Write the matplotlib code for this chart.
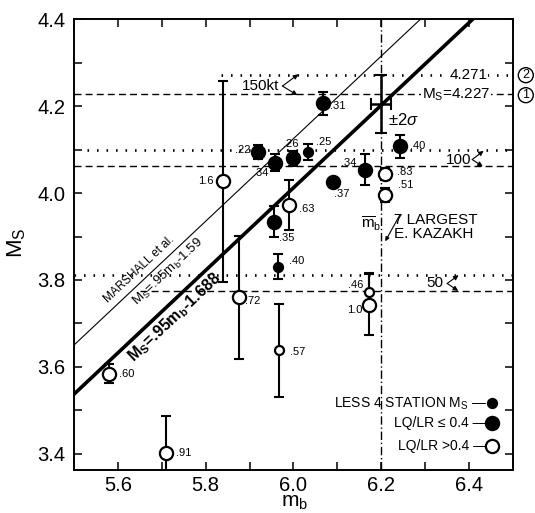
import numpy as np
import matplotlib.pyplot as plt
from matplotlib.ticker import MultipleLocator

plt.rcParams['font.family'] = ['Liberation Sans', 'DejaVu Sans']
plt.rcParams['mathtext.fontset'] = 'custom'
plt.rcParams['mathtext.rm'] = 'Liberation Sans'
plt.rcParams['mathtext.it'] = 'Liberation Sans:italic'
plt.rcParams['mathtext.bf'] = 'Liberation Sans:bold'

## Data.
# LQ/LR <= 0.4 (large filled)
fill_mb  = [5.955, 5.920, 5.957, 5.999, 6.067, 6.091, 6.162, 6.243]
fill_ms  = [3.934, 4.094, 4.070, 4.080, 4.206, 4.025, 4.054, 4.107]
fill_err = [0.036, 0.016, 0.019, 0.017, 0.026, 0.0, 0.035, 0.027]
fill_lab = ['.35', '.22', '.34', '.26', '.31', '.37', '.34', '.40']

# less than 4 station Ms (small filled)
small_mb  = [6.033, 5.964]
small_ms  = [4.094, 3.831]
small_err = [0.019, 0.028]
small_lab = ['.25', '.40']

# LQ/LR > 0.4 (open)
open_mb  = [5.840, 5.876, 5.580, 5.710, 5.991, 6.209, 6.209, 6.173]
open_ms  = [4.027, 3.760, 3.584, 3.401, 3.973, 4.043, 3.996, 3.743]
open_err = [0.231, 0.141, 0.022, 0.086, 0.057, 0.014, 0.016, 0.070]
open_lab = ['1.6', '.72', '.60', '.91', '.63', '.83', '.51', '1.0']

# LQ/LR > 0.4 (small open)
sopen_mb  = [5.968, 6.173]
sopen_ms  = [3.638, 3.773]
sopen_err = [0.106, 0.043]
sopen_lab = ['.57', '.46']

# mean of 7 largest E. Kazakh
mean_mb, mean_ms = 6.2, 4.205
mean_mb_err, mean_ms_err = 0.023, 0.066

# Ms = a mb + b  (Marshall line as drawn in the figure)
slope = 0.95
icpt_fit = -1.688
icpt_marshall = -1.575

# yield levels (Ms)
levels       = [4.271, 4.227, 4.100, 4.061, 3.812, 3.774]
level_start  = [5.835, 5.5, 5.53, 5.5, 5.5, 5.65]
level_dotted = [True, False, True, False, True, False]

## Label offsets in pixels (dx, dy).
fill_off  = [(13, -16), (-16, 2), (-14, -10), (-2, 14), (15, -3), (8, -12), (-16, 7), (17, 0)]
small_off = [(16, 10), (19, 6)]
open_off  = [(-17, 0), (14, -4), (18, 0), (18, 0), (17, -4), (20, 2), (20, 10), (-15, -5)]
sopen_off = [(18, -2), (-14, 7)]

fig = plt.figure(figsize=(5.35, 5.13), dpi=100)
ax = fig.add_axes([0.138, 0.0838, 0.821, 0.879])

xx = np.array([5.5, 6.5])
ax.plot(xx, slope * xx + icpt_fit, color='k', lw=2.6, zorder=2)
ax.plot(xx, slope * xx + icpt_marshall, color='k', lw=0.8, zorder=2)

for lev, x0, dot in zip(levels, level_start, level_dotted):
    if dot:
        ax.plot([x0, 6.5], [lev, lev], color='k', lw=1.9, ls=(0, (0.6, 3.0)), zorder=1)
    else:
        ax.plot([x0, 6.5], [lev, lev], color='k', lw=1.0, ls=(0, (5, 3)), zorder=1)

ax.axvline(mean_mb, color='k', lw=1.0, ls=(0, (6, 2, 1, 2)), zorder=1)


def points(mb, ms, err, labs, offs, size, face):
    ax.errorbar(mb, ms, yerr=err, fmt='none', ecolor='k', elinewidth=1.5,
                capsize=3.5, capthick=1.5, zorder=3)
    ax.plot(mb, ms, 'o', ms=size, mfc=face, mec='k', mew=1.6, zorder=4)
    for x, y, t, o in zip(mb, ms, labs, offs):
        ax.annotate(t, (x, y), xytext=o, textcoords='offset pixels',
                    ha='center', va='center', fontsize=8, zorder=5)


points(fill_mb, fill_ms, fill_err, fill_lab, fill_off, 9.5, 'k')
points(small_mb, small_ms, small_err, small_lab, small_off, 6.5, 'k')
points(open_mb, open_ms, open_err, open_lab, open_off, 9.5, 'w')
points(sopen_mb, sopen_ms, sopen_err, sopen_lab, sopen_off, 6.5, 'w')

ax.errorbar(mean_mb, mean_ms, xerr=mean_mb_err, yerr=mean_ms_err, fmt='none',
            ecolor='k', elinewidth=1.8, capsize=4, capthick=1.5, zorder=3)

## Annotations.
arw = dict(arrowstyle='-|>', color='k', lw=0.8, mutation_scale=7, shrinkA=0, shrinkB=0)
ax.text(5.926, 4.246, '150kt', fontsize=11, ha='center', va='center')
ax.annotate('', (6.011, 4.273), (5.975, 4.246), arrowprops=arw)
ax.annotate('', (6.009, 4.225), (5.975, 4.246), arrowprops=arw)
ax.text(6.376, 4.077, '100', fontsize=11, ha='center', va='center')
ax.annotate('', (6.433, 4.097), (6.407, 4.077), arrowprops=arw)
ax.annotate('', (6.431, 4.061), (6.407, 4.077), arrowprops=arw)
ax.text(6.323, 3.792, '50', fontsize=11, ha='center', va='center')
ax.annotate('', (6.376, 3.811), (6.350, 3.792), arrowprops=arw)
ax.annotate('', (6.375, 3.775), (6.350, 3.792), arrowprops=arw)

wb = dict(facecolor='w', edgecolor='none', pad=0.5)
ax.text(6.399, 4.271, '4.271', fontsize=11, ha='center', va='center', bbox=wb, zorder=2)
ax.text(6.371, 4.227, r'M$_\mathregular{S}$=4.227', fontsize=11, ha='center', va='center',
        bbox=wb, zorder=2)
circ = dict(boxstyle='circle,pad=0.12', facecolor='w', edgecolor='k', lw=1.0)
ax.text(6.529, 4.271, '2', fontsize=9, ha='center', va='center', bbox=circ, clip_on=False)
ax.text(6.529, 4.225, '1', fontsize=9, ha='center', va='center', bbox=circ, clip_on=False)

ax.text(6.215, 4.168, r'$\pm$2$\sigma$', fontsize=12, ha='left', va='center')
ax.text(6.228, 3.922, '7 LARGEST\nE. KAZAKH', fontsize=11, ha='left', va='center',
        linespacing=1.0)
ax.text(6.178, 3.928, r'$\overline{\mathrm{m}}_\mathrm{b}$', fontsize=11, ha='center',
        va='center')
ax.annotate('', (6.209, 3.889), (6.243, 3.951),
            arrowprops=dict(arrowstyle='-|>', color='k', lw=0.8, mutation_scale=6,
                            shrinkA=0, shrinkB=0))

ang = 43.4
ax.text(5.730, 3.714, r'M$_\mathregular{S}$=.95m$_\mathregular{b}$-1.688', fontsize=11.5,
        fontweight='bold', rotation=ang, rotation_mode='anchor', ha='center', va='center')
x1, x2 = 5.665, 5.697
ax.annotate('MARSHALL et al.', (x1, slope * x1 + icpt_marshall), xytext=(-7.0, 7.4),
            textcoords='offset pixels', fontsize=8.5, rotation=ang,
            rotation_mode='anchor', ha='center', va='center')
ax.annotate(r'M$_\mathregular{S}$=.95m$_\mathregular{b}$-1.59', (x2, slope * x2 + icpt_marshall),
            xytext=(7.4, -7.8), textcoords='offset pixels', fontsize=9.5, rotation=ang,
            rotation_mode='anchor', ha='center', va='center')

## Legend drawn as text.
leg_y = [3.516, 3.470, 3.418]
ax.text(6.440, leg_y[0], r'LESS 4 STATION M$_\mathregular{S}$ —', fontsize=10, ha='right', va='center')
ax.text(6.440, leg_y[1], 'LQ/LR ≤ 0.4 —', fontsize=10, ha='right', va='center')
ax.text(6.440, leg_y[2], 'LQ/LR >0.4 —', fontsize=10, ha='right', va='center')
ax.plot(6.452, leg_y[0], 'o', ms=6.5, mfc='k', mec='k', mew=1.6)
ax.plot(6.452, leg_y[1], 'o', ms=9.5, mfc='k', mec='k', mew=1.6)
ax.plot(6.452, leg_y[2], 'o', ms=9.5, mfc='w', mec='k', mew=1.6)

## Axes.
ax.set_xlim(5.5, 6.5)
ax.set_ylim(3.363, 4.395)
ax.set_xticks(np.arange(5.6, 6.41, 0.2))
ax.set_yticks(np.arange(3.4, 4.41, 0.2))
ax.xaxis.set_minor_locator(MultipleLocator(0.1))
ax.yaxis.set_minor_locator(MultipleLocator(0.1))
ax.tick_params(which='both', direction='in', top=True, right=True, length=6, width=1.1,
               labelsize=14.5)
ax.tick_params(axis='x', pad=4)
ax.tick_params(axis='y', pad=6)
for s in ax.spines.values():
    s.set_linewidth(1.4)

fig.text(17 / 535, 1 - 243 / 513, r'M$_\mathregular{S}$', fontsize=16, rotation=90,
         ha='center', va='center')
fig.text(295 / 535, 0.012, r'm$_\mathregular{b}$', fontsize=15, ha='center', va='baseline')

fig.savefig('out.png', dpi=100)
